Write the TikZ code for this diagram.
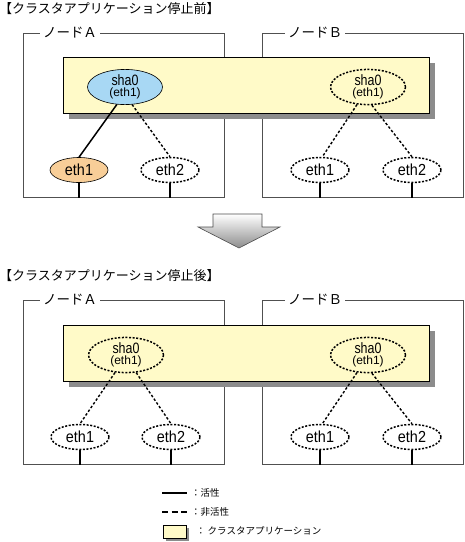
\documentclass[tikz,border=0pt]{standalone}
\usepackage{fontspec}
\setmainfont{Liberation Sans}
\newfontfamily\jp{Noto Sans CJK JP}
\newfontfamily\shafont[FakeStretch=0.83]{Liberation Sans}
\newfontfamily\ethfont[FakeStretch=0.9]{Liberation Sans}
\usetikzlibrary{shapes.geometric,shadows}
\definecolor{appyellow}{HTML}{FFFAC8}
\definecolor{shablue}{HTML}{A8D8F4}
\definecolor{ethorange}{HTML}{F8CE98}
\definecolor{shadowgray}{HTML}{8C8C8C}
\definecolor{boxgray}{HTML}{505050}
\begin{document}
\begin{tikzpicture}[x=1pt,y=-1pt,
  title/.style={anchor=west, inner sep=0pt, font=\jp\fontsize{13}{13}\selectfont},
  nodebox/.style={draw=boxgray, line width=1pt, minimum width=201pt, minimum height=164pt, anchor=north west, inner sep=0pt},
  boxlabel/.style={fill=white, font=\jp\fontsize{13.5}{13.5}\selectfont, inner sep=3pt},
  appbox/.style={draw=black, line width=0.8pt, fill=appyellow, minimum width=366pt, minimum height=56pt, anchor=north west, inner sep=0pt,
    drop shadow={shadow xshift=6pt, shadow yshift=-6pt, fill=shadowgray, opacity=1}},
  shaell/.style={ellipse, minimum width=75pt, minimum height=33pt, inner sep=0pt, align=center, font=\fontsize{10}{12}\selectfont},
  ethell/.style={ellipse, minimum width=58pt, minimum height=25pt, inner sep=0pt, font=\ethfont\fontsize{16}{16}\selectfont},
  dell/.style={draw, line width=1.5pt, dash pattern=on 2pt off 1.6pt},
  active/.style={draw=black, line width=1.5pt},
  inactive/.style={draw=black, line width=1.4pt, dash pattern=on 2.5pt off 2pt},
  legdash/.style={draw=black, line width=1.5pt, dash pattern=on 6pt off 3.5pt},
  stub/.style={draw=black, line width=1.5pt},
  legtext/.style={anchor=west, inner sep=0pt, font=\jp\fontsize{9.5}{10}\selectfont}
]
\useasboundingbox (0,0) rectangle (465,542);

\newcommand{\shatext}{{\shafont\fontsize{15}{15}\selectfont sha0}\\[-0.5pt]{\fontsize{12}{12}\selectfont (eth1)}}

% ================= top section =================
\node[title] (t1) at (-1,9) {【クラスタアプリケーション停止前】};
\node[nodebox] (nA1) at (23,33) {};
\node[nodebox] (nB1) at (262,33) {};
\node[boxlabel] (lA1) at (70,33) {ノードＡ};
\node[boxlabel] (lB1) at (315,33) {ノードＢ};
\node[appbox] (app1) at (63,57) {};

\node[shaell, fill=shablue, draw=black, line width=0.6pt] (shaA1) at (125,87) {\shatext};
\node[ethell, fill=ethorange, draw=black, line width=0.6pt] (eA11) at (79,170) {eth1};
\node[ethell, dell] (eA21) at (170,170) {eth2};
\node[shaell, dell] (shaB1) at (368,87) {\shatext};
\node[ethell, dell] (eB11) at (320,170) {eth1};
\node[ethell, dell] (eB21) at (412,170) {eth2};

\draw[active] (shaA1.245) -- (eA11.north);
\draw[inactive] (shaA1.292) -- (eA21.north);
\draw[inactive] (shaB1.238) -- (eB11.80);
\draw[inactive] (shaB1.282) -- (eB21.north);

\foreach \e in {eA11,eA21,eB11,eB21}{
  \draw[stub] (\e.south) -- (\e.south |- nA1.south);
}

% ================= arrow =================
\shade[top color=white, bottom color=black!45, draw=black!70, line width=0.6pt]
  (213,214) -- (262,214) -- (262,227) -- (280,227) -- (239,248) -- (198,227) -- (213,227) -- cycle;

% ================= bottom section =================
\node[title] (t2) at (-1,276) {【クラスタアプリケーション停止後】};
\node[nodebox] (nA2) at (23,300) {};
\node[nodebox] (nB2) at (262,300) {};
\node[boxlabel] (lA2) at (70,300) {ノードＡ};
\node[boxlabel] (lB2) at (315,300) {ノードＢ};
\node[appbox] (app2) at (63,325) {};

\node[shaell, dell] (shaA2) at (126,355) {\shatext};
\node[ethell, dell] (eA12) at (80,437) {eth1};
\node[ethell, dell] (eA22) at (171,437) {eth2};
\node[shaell, dell] (shaB2) at (368,355) {\shatext};
\node[ethell, dell] (eB12) at (320,437) {eth1};
\node[ethell, dell] (eB22) at (412,437) {eth2};

\draw[inactive] (shaA2.238) -- (eA12.north);
\draw[inactive] (shaA2.300) -- (eA22.north);
\draw[inactive] (shaB2.238) -- (eB12.80);
\draw[inactive] (shaB2.282) -- (eB22.north);

\foreach \e in {eA12,eA22,eB12,eB22}{
  \draw[stub] (\e.south) -- (\e.south |- nA2.south);
}

% ================= legend =================
\coordinate (la) at (162,493);
\coordinate (lb) at (187,493);
\coordinate (lc) at (162,512);
\coordinate (ld) at (187,512);
\draw[line width=1.5pt] (la) -- (lb);
\draw[legdash] (lc) -- (ld);
\node[legtext] (lt1) at (191,493) {：活性};
\node[legtext] (lt2) at (191,512) {：非活性};
\node[draw=black, line width=0.8pt, fill=appyellow, minimum width=23pt, minimum height=13pt, inner sep=0pt, anchor=north west,
  drop shadow={shadow xshift=3pt, shadow yshift=-3pt, fill=shadowgray, opacity=1}] (lbox) at (163,525) {};
\node[legtext] (lt3) at (196,531) {：\hspace{2pt}クラスタアプリケーション};
\end{tikzpicture}
\end{document}
